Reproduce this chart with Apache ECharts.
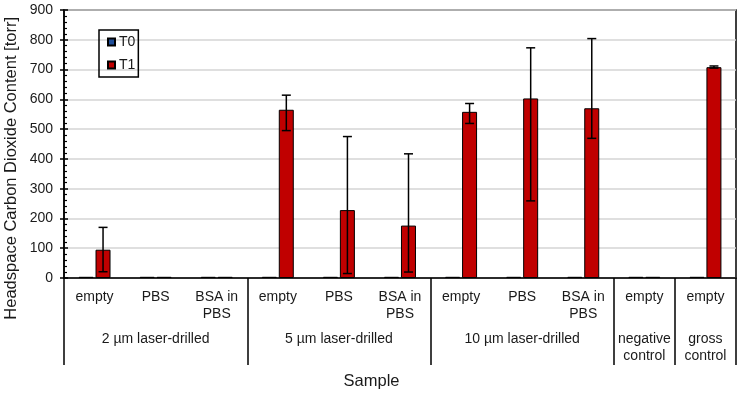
<!DOCTYPE html>
<html>
<head>
<meta charset="utf-8">
<script src="https://cdn.jsdelivr.net/npm/echarts@6/dist/echarts.min.js"></script>
<style>html,body{margin:0;padding:0;background:#fff}#c{width:743px;height:394px}</style>
</head>
<body>
<div id="c"></div>
<script>
var categories = ['empty','PBS','BSA in\nPBS','empty','PBS','BSA in\nPBS','empty','PBS','BSA in\nPBS','empty','empty'];
var groupLabels = ['','2 µm laser-drilled','','','5 µm laser-drilled','','','10 µm laser-drilled','','negative\ncontrol','gross\ncontrol'];
var groupBoundaries = [0,3,6,9,10,11];
var yTicks = [0,100,200,300,400,500,600,700,800,900];
var t0 = [4,4,4,4,4,4,4,4,4,4,4];
var t1 = [95,4,4,565,228,176,558,603,570,4,708];
var t1Low = [21,null,null,495,15,20,519,259,469,null,705];
var t1High = [170,null,null,614,475,417,586,773,804,null,712];

var FONT = 'Liberation Sans, Arial, sans-serif';
var TXT = '#1a1a1a';
var errData = [];
for (var i = 0; i < t1.length; i++) {
  if (t1Low[i] != null) errData.push([i, t1Low[i], t1High[i]]);
}

var chart = echarts.init(document.getElementById('c'));
chart.setOption({
  animation: false,
  backgroundColor: '#fff',
  textStyle: {fontFamily: FONT, color: TXT},
  grid: {left: 64, right: 7, top: 10, bottom: 116, show: true, borderColor: '#000', borderWidth: 1.5, containLabel: false},
  legend: {
    orient: 'vertical', left: 99, top: 30, data: ['T0','T1'],
    borderColor: '#000', borderWidth: 1.5, padding: [5, 3, 5, 8],
    itemWidth: 7, itemHeight: 7, itemGap: 9,
    textStyle: {fontFamily: FONT, fontSize: 14, color: TXT, padding: [0,0,0,-1]},
    icon: 'rect'
  },
  xAxis: [{
    type: 'category', data: categories, position: 'bottom',
    axisLine: {lineStyle: {color: '#000', width: 1.5}},
    axisTick: {show: false},
    axisLabel: {interval: 0, fontFamily: FONT, fontSize: 14, color: TXT, margin: 11, lineHeight: 17}
  }, {
    type: 'category', data: groupLabels, position: 'bottom', gridIndex: 0,
    axisLine: {show: false},
    axisTick: {show: true, length: 87, lineStyle: {color: '#000', width: 1.5},
      interval: function (idx) { return groupBoundaries.indexOf(idx) >= 0; }},
    axisLabel: {interval: 0, fontFamily: FONT, fontSize: 14, color: TXT, margin: 53, lineHeight: 17}
  }],
  yAxis: [{
    type: 'value', min: 0, max: 900, interval: 100,
    axisLine: {show: true, lineStyle: {color: '#000', width: 1.5}},
    axisTick: {show: true, length: 4, lineStyle: {color: '#000', width: 1.5}},
    axisLabel: {fontFamily: FONT, fontSize: 14, color: TXT, margin: 11,
      formatter: function (v) { return yTicks.indexOf(v) >= 0 ? String(v) : ''; }},
    splitLine: {show: true, lineStyle: {color: '#d4d4d4', width: 1.5}}
  }, {
    type: 'value', min: 0, max: 900, interval: 100, position: 'left',
    axisLine: {show: false},
    axisTick: {show: true, inside: true, length: 4, lineStyle: {color: '#000', width: 1.5}},
    minorTick: {show: true, splitNumber: 5, length: 3, lineStyle: {color: '#000', width: 1.2}},
    axisLabel: {show: false},
    splitLine: {show: false}
  }],
  series: [{
    name: 'T0', type: 'bar', data: t0, barWidth: 15, barGap: '13%',
    itemStyle: {color: '#1f4e9a', borderColor: '#000', borderWidth: 1}
  }, {
    name: 'T1', type: 'bar', data: t1, barWidth: 15, barGap: '13%',
    itemStyle: {color: '#c00000', borderColor: '#000', borderWidth: 1}
  }, {
    name: 'err', type: 'custom', data: errData, z: 10,
    renderItem: function (params, api) {
      var idx = api.value(0);
      var lo = api.coord([idx, api.value(1)]);
      var hi = api.coord([idx, api.value(2)]);
      var x = lo[0] + 8.5;
      var w = 4.5;
      var st = {stroke: '#000', lineWidth: 1.5, fill: null};
      return {type: 'group', children: [
        {type: 'line', shape: {x1: x, y1: lo[1], x2: x, y2: hi[1]}, style: st},
        {type: 'line', shape: {x1: x - w, y1: lo[1], x2: x + w, y2: lo[1]}, style: st},
        {type: 'line', shape: {x1: x - w, y1: hi[1], x2: x + w, y2: hi[1]}, style: st}
      ]};
    }
  }],
  graphic: [{
    type: 'text', left: 3, top: 17, rotation: Math.PI / 2,
    style: {text: 'Headspace Carbon Dioxide Content [torr]', font: '16.5px ' + FONT, fill: TXT}
  }, {
    type: 'text', left: 'center', top: 373,
    style: {text: 'Sample', font: '16.5px ' + FONT, fill: TXT}
  }]
});
</script>
</body>
</html>
